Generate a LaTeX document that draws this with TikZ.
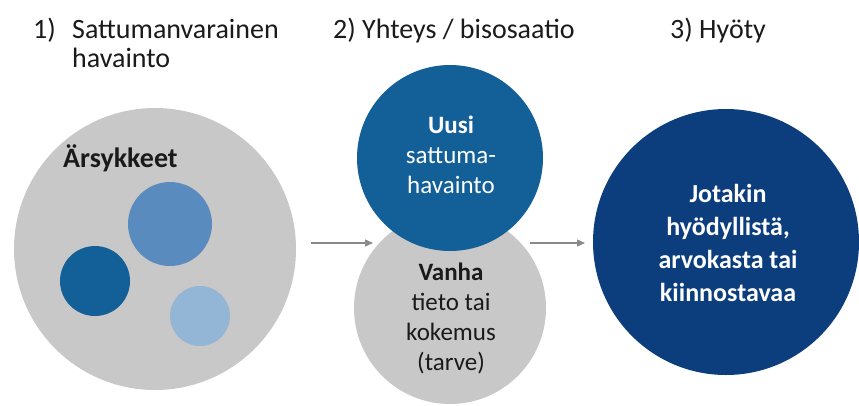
\documentclass[tikz,border=0pt]{standalone}
\usepackage{fontspec}
\setmainfont{Carlito}
\usetikzlibrary{arrows.meta}
\definecolor{greyc}{HTML}{C8C8C8}
\definecolor{tealblue}{HTML}{135F97}
\definecolor{navy}{HTML}{0C3E7D}
\definecolor{midblue}{HTML}{5A8BBE}
\definecolor{lightblue}{HTML}{93B6D6}
\definecolor{arrowgrey}{HTML}{8A8A8A}
\definecolor{ink}{HTML}{1A1A1A}
\begin{document}
\begin{tikzpicture}[x=1pt,y=-1pt,
  blob/.style={circle, inner sep=0pt, minimum size=#1, draw=none},
  ttl/.style={font=\fontsize{28}{30}\selectfont, text=ink, inner sep=0pt},
  wtxt/.style={font=\fontsize{25}{30}\selectfont, text=white, inner sep=0pt, align=center},
  btxt/.style={font=\fontsize{25}{30}\selectfont, text=ink, inner sep=0pt, align=center},
  conn/.style={draw=arrowgrey, line width=1.4pt, -{Triangle[length=8pt,width=7pt]}}]
\useasboundingbox (0,0) rectangle (859,405);
% titles
\node[ttl, anchor=base west] (t1n) at (33,38) {1)};
\node[ttl, anchor=base west] (t1a) at (72,38) {Sattumanvarainen};
\node[ttl, anchor=base west] (t1b) at (72,67) {havainto};
\node[ttl, anchor=base west] (t2) at (333,38) {2) Yhteys / bisosaatio};
\node[ttl, anchor=base west] (t3) at (670,38) {3) Hyöty};
% left
\node[blob=282pt, fill=greyc] (stim) at (155,249) {};
\node[ttl, anchor=base west] (stimlbl) at (63,167) {\bfseries Ärsykkeet};
\node[blob=84pt, fill=midblue] (s1) at (170,224) {};
\node[blob=70pt, fill=tealblue] (s2) at (95,281) {};
\node[blob=60pt, fill=lightblue] (s3) at (200,316) {};
% middle
\node[blob=192pt, fill=greyc] (old) at (450,308) {};
\node[blob=186pt, fill=tealblue] (new) at (450,158) {};
\node[wtxt] (newlbl) at (451,155) {\bfseries Uusi\\sattuma-\\havainto};
\node[btxt] (oldlbl) at (451,318) {\bfseries Vanha\\tieto tai\\kokemus\\(tarve)};
% right
\node[blob=266pt, fill=navy] (gain) at (726,242) {};
\node[wtxt, font=\fontsize{26}{33}\selectfont\bfseries] (gainlbl) at (728,243) {Jotakin\\hyödyllistä,\\arvokasta tai\\kiinnostavaa};
% arrows
\coordinate (a1s) at (311,243);
\coordinate (a1e) at (373,243);
\coordinate (a2s) at (530,243);
\coordinate (a2e) at (585,243);
\draw[conn] (a1s) -- (a1e);
\draw[conn] (a2s) -- (a2e);
\end{tikzpicture}
\end{document}
